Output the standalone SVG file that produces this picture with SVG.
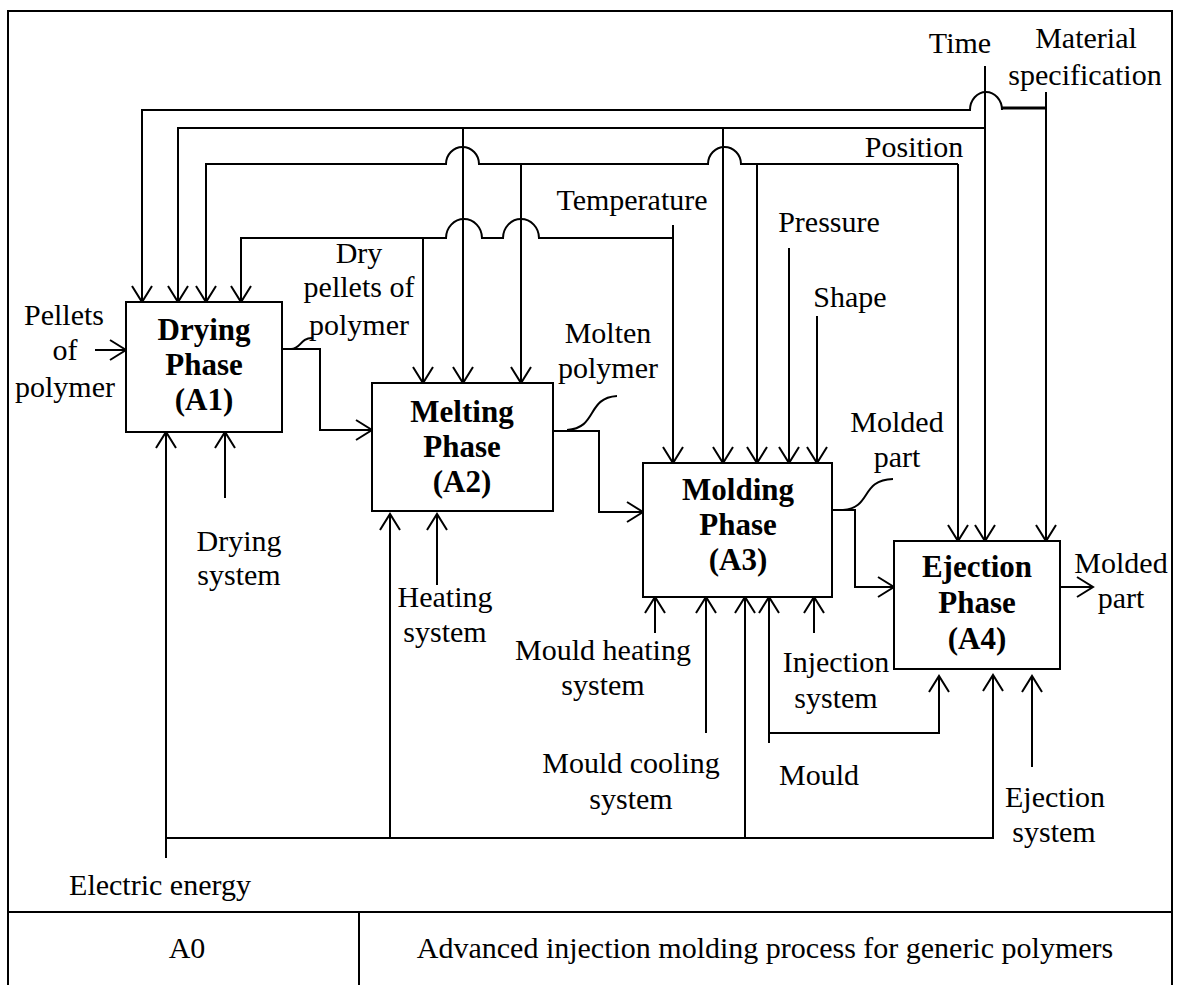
<svg xmlns="http://www.w3.org/2000/svg" width="1179" height="985" viewBox="0 0 1179 985">
  <style>
    .ln { fill: none; stroke: #000; stroke-width: 2; }
    .box { fill: #fff; stroke: #000; stroke-width: 2; }
    .lbl { font-family: "Liberation Serif", "Times New Roman", serif; font-size: 30px; fill: #000; text-anchor: middle; }
    .ttl { font-family: "Liberation Serif", "Times New Roman", serif; font-size: 31px; font-weight: bold; fill: #000; text-anchor: middle; }
  </style>
  <defs>
    <marker id="arr" markerUnits="userSpaceOnUse" markerWidth="20" markerHeight="24" viewBox="0 0 20 24" refX="18" refY="12" orient="auto" overflow="visible">
      <path d="M2,2 L18,12 L2,22" fill="none" stroke="#000" stroke-width="2"/>
    </marker>
  </defs>

  <rect width="1179" height="985" fill="#fff"/>

  <!-- frame and title block -->
  <g id="frame">
    <path class="ln" d="M8,990 V11 H1172 V990"/>
    <path class="ln" d="M8,912 H1172 M359,912 V990"/>
    <text class="lbl" x="187" y="958">A0</text>
    <text class="lbl" x="765" y="958">Advanced injection molding process for generic polymers</text>
  </g>

  <!-- connectors -->
  <g id="connectors">
    <!-- Material specification -->
    <path class="ln" d="M1046,92 V541" marker-end="url(#arr)"/>
    <path class="ln" d="M1002,110 A16,18 0 0 0 970,110 H142 V302" marker-end="url(#arr)"/>
    <path class="ln" style="stroke-width:3" d="M1046,108 H1002"/>
    <!-- Time -->
    <path class="ln" d="M985,66 V541" marker-end="url(#arr)"/>
    <path class="ln" d="M985,128 H178 V302" marker-end="url(#arr)"/>
    <path class="ln" d="M463,128 V383" marker-end="url(#arr)"/>
    <path class="ln" d="M723,128 V463" marker-end="url(#arr)"/>
    <!-- Position -->
    <path class="ln" d="M958,164 V541" marker-end="url(#arr)"/>
    <path class="ln" d="M958,164 H741 A16.5,17 0 0 0 708,164 H479 A16.5,17 0 0 0 446,164 H206 V302" marker-end="url(#arr)"/>
    <path class="ln" d="M521,164 V383" marker-end="url(#arr)"/>
    <path class="ln" d="M757,164 V463" marker-end="url(#arr)"/>
    <!-- Temperature -->
    <path class="ln" d="M673,225 V463" marker-end="url(#arr)"/>
    <path class="ln" d="M673,238 H539 A18,19 0 0 0 503,238 H482 A18,19 0 0 0 446,238 H241 V302" marker-end="url(#arr)"/>
    <path class="ln" d="M423,238 V383" marker-end="url(#arr)"/>
    <!-- Pressure, Shape -->
    <path class="ln" d="M789,248 V463" marker-end="url(#arr)"/>
    <path class="ln" d="M817,316 V463" marker-end="url(#arr)"/>

    <!-- inputs and outputs -->
    <path class="ln" d="M95,350 H126" marker-end="url(#arr)"/>
    <path class="ln" d="M282,349 H320 V430 H372" marker-end="url(#arr)"/>
    <path class="ln" d="M291,349 C301,349 300,338 312,338"/>
    <path class="ln" d="M553,431 H599 V512 H643" marker-end="url(#arr)"/>
    <path class="ln" d="M567,430 C598,428 586,398 617,396"/>
    <path class="ln" d="M832,510 H855 V587 H894" marker-end="url(#arr)"/>
    <path class="ln" d="M843,510 C872,508 860,480 893,479"/>
    <path class="ln" d="M1060,587 H1093" marker-end="url(#arr)"/>

    <!-- Electric energy -->
    <path class="ln" d="M166,858 V432" marker-end="url(#arr)"/>
    <path class="ln" d="M166,838 H994"/>
    <path class="ln" d="M390,838 V514" marker-end="url(#arr)"/>
    <path class="ln" d="M745,838 V597" marker-end="url(#arr)"/>
    <path class="ln" d="M993,838 V675" marker-end="url(#arr)"/>
    <!-- mechanisms -->
    <path class="ln" d="M225,498 V432" marker-end="url(#arr)"/>
    <path class="ln" d="M437,585 V514" marker-end="url(#arr)"/>
    <path class="ln" d="M655,633 V597" marker-end="url(#arr)"/>
    <path class="ln" d="M706,733 V597" marker-end="url(#arr)"/>
    <path class="ln" d="M769,743 V597" marker-end="url(#arr)"/>
    <path class="ln" d="M769,733 H939 V676" marker-end="url(#arr)"/>
    <path class="ln" d="M814,633 V597" marker-end="url(#arr)"/>
    <path class="ln" d="M1032,767 V676" marker-end="url(#arr)"/>
  </g>

  <!-- activity boxes -->
  <g id="A1">
    <rect class="box" x="126" y="302" width="156" height="130"/>
    <text class="ttl" x="204" y="340">Drying</text>
    <text class="ttl" x="204" y="375">Phase</text>
    <text class="ttl" x="204" y="410">(A1)</text>
  </g>
  <g id="A2">
    <rect class="box" x="372" y="383" width="181" height="128"/>
    <text class="ttl" x="462" y="422">Melting</text>
    <text class="ttl" x="462" y="457">Phase</text>
    <text class="ttl" x="462" y="492">(A2)</text>
  </g>
  <g id="A3">
    <rect class="box" x="643" y="463" width="189" height="134"/>
    <text class="ttl" x="738" y="500">Molding</text>
    <text class="ttl" x="738" y="535">Phase</text>
    <text class="ttl" x="738" y="570">(A3)</text>
  </g>
  <g id="A4">
    <rect class="box" x="894" y="541" width="166" height="128"/>
    <text class="ttl" x="977" y="577">Ejection</text>
    <text class="ttl" x="977" y="613">Phase</text>
    <text class="ttl" x="977" y="649">(A4)</text>
  </g>

  <!-- arrow labels -->
  <g id="labels">
    <text class="lbl" x="960" y="53">Time</text>
    <text class="lbl" x="1086" y="48">Material</text>
    <text class="lbl" x="1085" y="85">specification</text>
    <text class="lbl" x="914" y="157">Position</text>
    <text class="lbl" x="632" y="210">Temperature</text>
    <text class="lbl" x="829" y="232">Pressure</text>
    <text class="lbl" x="850" y="307">Shape</text>
    <text class="lbl" x="359" y="263">Dry</text>
    <text class="lbl" x="359" y="297">pellets of</text>
    <text class="lbl" x="359" y="335">polymer</text>
    <text class="lbl" x="64" y="325">Pellets</text>
    <text class="lbl" x="65" y="360">of</text>
    <text class="lbl" x="65" y="397">polymer</text>
    <text class="lbl" x="608" y="343">Molten</text>
    <text class="lbl" x="608" y="378">polymer</text>
    <text class="lbl" x="897" y="432">Molded</text>
    <text class="lbl" x="897" y="467">part</text>
    <text class="lbl" x="1121" y="573">Molded</text>
    <text class="lbl" x="1121" y="608">part</text>
    <text class="lbl" x="239" y="551">Drying</text>
    <text class="lbl" x="239" y="585">system</text>
    <text class="lbl" x="445" y="607">Heating</text>
    <text class="lbl" x="445" y="642">system</text>
    <text class="lbl" x="603" y="660">Mould heating</text>
    <text class="lbl" x="603" y="695">system</text>
    <text class="lbl" x="631" y="773">Mould cooling</text>
    <text class="lbl" x="631" y="809">system</text>
    <text class="lbl" x="836" y="672">Injection</text>
    <text class="lbl" x="836" y="708">system</text>
    <text class="lbl" x="819" y="785">Mould</text>
    <text class="lbl" x="1055" y="807">Ejection</text>
    <text class="lbl" x="1054" y="842">system</text>
    <text class="lbl" x="160" y="895">Electric energy</text>
  </g>
</svg>
